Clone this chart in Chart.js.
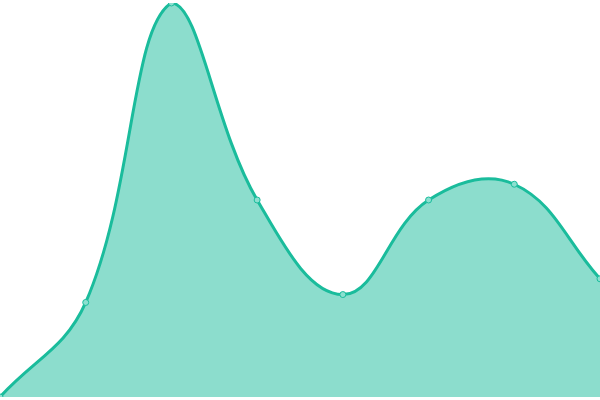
<!DOCTYPE html>
<html>
<head>
<meta charset="utf-8">
<script src="https://cdn.jsdelivr.net/npm/chart.js@4"></script>
<style>
  html, body { margin: 0; padding: 0; background: #fff; }
  #wrap { width: 600px; height: 400px; }
</style>
</head>
<body>
<div id="wrap"><canvas id="areaChart"></canvas></div>
<script>
// chart data
const labels = ['Jan', 'Feb', 'Mar', 'Apr', 'May', 'Jun', 'Jul', 'Aug'];
const values = [0, 24, 100, 50, 26, 50, 54, 30];

const ctx = document.getElementById('areaChart').getContext('2d');

new Chart(ctx, {
    type: 'line',
    data: {
        labels: labels,
        datasets: [{
            data: values,
            fill: 'origin',
            tension: 0.4,
            borderColor: '#1abc9c',
            backgroundColor: 'rgba(26, 188, 156, 0.5)',
            borderWidth: 3,
            pointRadius: 3,
            pointBorderWidth: 1,
            pointBackgroundColor: 'rgba(140, 224, 208, 1)',
            pointBorderColor: '#1abc9c'
        }]
    },
    options: {
        responsive: true,
        maintainAspectRatio: false,
        animation: false,
        layout: { autoPadding: false, padding: { top: 3, bottom: 3 } },
        plugins: {
            legend: { display: false },
            tooltip: { enabled: false }
        },
        scales: {
            x: { display: false },
            y: { display: false, min: 0, max: 100 }
        }
    }
});
</script>
</body>
</html>
